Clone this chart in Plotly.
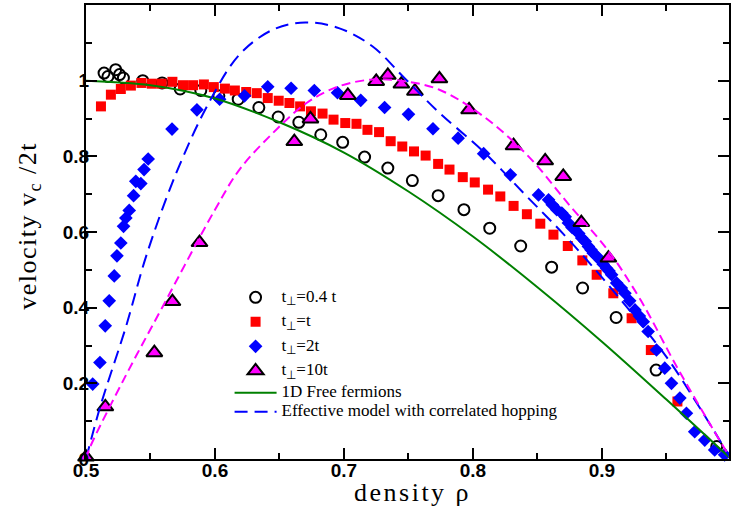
import plotly.graph_objects as go

# ---- data ----
circ_x = [0.514, 0.517, 0.523, 0.526, 0.529, 0.544, 0.559, 0.573, 0.589, 0.603, 0.618, 0.634, 0.649,
          0.665, 0.682, 0.699, 0.716, 0.734, 0.753, 0.773, 0.793, 0.813, 0.837, 0.861, 0.885, 0.911,
          0.942, 0.989]
circ_y = [1.020, 1.011, 1.029, 1.016, 1.007, 1.000, 0.994, 0.978, 0.974, 0.960, 0.951, 0.929, 0.904,
          0.890, 0.857, 0.837, 0.798, 0.769, 0.736, 0.696, 0.659, 0.610, 0.563, 0.507, 0.452, 0.374,
          0.235, 0.033]

sq_x = [0.5116, 0.5193, 0.527, 0.5348, 0.543, 0.551, 0.5587, 0.567, 0.5752, 0.583, 0.5914, 0.5991,
        0.6077, 0.6154, 0.6242, 0.6324, 0.6409, 0.6494, 0.6577, 0.666, 0.6744, 0.6834, 0.6919, 0.701,
        0.7097, 0.7182, 0.7272, 0.7362, 0.7452, 0.7543, 0.7633, 0.773, 0.7818, 0.7921, 0.8014, 0.8117,
        0.8212, 0.8315, 0.8418, 0.8522, 0.8624, 0.8735, 0.8848, 0.8959, 0.9088, 0.923, 0.9379, 0.9585]
sq_y = [0.932, 0.963, 0.978, 0.987, 0.994, 0.992, 0.992, 0.997, 0.988, 0.988, 0.990, 0.983,
        0.979, 0.974, 0.970, 0.967, 0.954, 0.947, 0.941, 0.932, 0.919, 0.913, 0.897, 0.888,
        0.886, 0.870, 0.864, 0.840, 0.826, 0.813, 0.802, 0.780, 0.765, 0.745, 0.731, 0.712,
        0.694, 0.669, 0.647, 0.622, 0.593, 0.563, 0.525, 0.487, 0.438, 0.372, 0.288, 0.152]

dia_x = [0.5052, 0.5108, 0.5149, 0.518, 0.5219, 0.524, 0.527, 0.5291, 0.5309, 0.5335, 0.5369, 0.5386,
         0.5425, 0.545, 0.5482, 0.5667, 0.586, 0.6036, 0.6229, 0.6409, 0.659, 0.677, 0.695, 0.713,
         0.7315, 0.750, 0.769, 0.7885, 0.8083, 0.829, 0.8508, 0.8586, 0.8615, 0.865, 0.8689, 0.8715,
         0.874, 0.8768, 0.8792, 0.882, 0.8843, 0.887, 0.8895, 0.8915, 0.8933, 0.896, 0.8985, 0.901,
         0.9036, 0.9055, 0.9075, 0.9114, 0.915, 0.9178, 0.9215, 0.9256, 0.929, 0.932, 0.9358, 0.9423,
         0.9487, 0.9539, 0.9604, 0.9655, 0.9719, 0.9797, 0.9874, 0.9951]
dia_y = [0.198, 0.255, 0.352, 0.418, 0.484, 0.537, 0.571, 0.615, 0.637, 0.657, 0.696, 0.734,
         0.728, 0.765, 0.793, 0.872, 0.923, 0.951, 0.960, 0.984, 0.980, 0.974, 0.968, 0.948,
         0.929, 0.911, 0.873, 0.848, 0.807, 0.751, 0.698, 0.685, 0.672, 0.659, 0.650, 0.640,
         0.624, 0.612, 0.606, 0.596, 0.584, 0.575, 0.562, 0.553, 0.544, 0.536, 0.526, 0.515,
         0.504, 0.497, 0.487, 0.465, 0.452, 0.438, 0.418, 0.394, 0.378, 0.363, 0.337, 0.288,
         0.240, 0.200, 0.161, 0.121, 0.072, 0.050, 0.024, 0.011]

tri_x = [0.5, 0.515, 0.553, 0.567, 0.588, 0.6615, 0.674, 0.703, 0.725, 0.734, 0.7445, 0.755, 0.774,
         0.797, 0.8315, 0.856, 0.870, 0.884, 0.905]
tri_y = [0.005, 0.138, 0.281, 0.416, 0.572, 0.839, 0.899, 0.961, 0.998, 1.014, 0.991, 0.972, 1.005,
         0.923, 0.828, 0.788, 0.747, 0.625, 0.531]

free_x = [0.5, 0.55, 0.6, 0.65, 0.7, 0.75, 0.8, 0.85, 0.9, 0.95, 1.0]
free_y = [1.0, 0.988, 0.953, 0.89, 0.81, 0.707, 0.588, 0.454, 0.31, 0.157, 0.0]

eff_x = [0.5, 0.511, 0.531, 0.547, 0.570, 0.595, 0.619, 0.645, 0.670, 0.696, 0.722, 0.748, 0.774,
         0.808, 0.8406, 0.87, 0.9, 0.95, 0.972, 0.985, 1.0]
eff_y = [0.0, 0.138, 0.35, 0.54, 0.756, 0.94, 1.069, 1.135, 1.154, 1.139, 1.091, 1.003, 0.915,
         0.813, 0.698, 0.595, 0.48, 0.27, 0.156, 0.085, 0.0]

mag_x = [0.5, 0.503, 0.53, 0.559, 0.6, 0.619, 0.645, 0.671, 0.696, 0.722, 0.748, 0.774, 0.808,
         0.843, 0.875, 0.905, 0.93, 0.958, 0.985, 1.0]
mag_y = [0.0, 0.03, 0.215, 0.40, 0.659, 0.765, 0.862, 0.941, 0.985, 1.003, 0.998, 0.976, 0.906,
         0.80, 0.67, 0.55, 0.42, 0.244, 0.085, 0.0]

x_ticks = [0.5, 0.6, 0.7, 0.8, 0.9]
x_ticktext = ["0.5", "0.6", "0.7", "0.8", "0.9"]
x_minor = [0.55, 0.65, 0.75, 0.85, 0.95]
y_ticks = [0, 0.2, 0.4, 0.6, 0.8, 1.0]
y_ticktext = ["0", "0.2", "0.4", "0.6", "0.8", "1"]
y_minor = [0.1, 0.3, 0.5, 0.7, 0.9, 1.1]

LEG = "<span style='font-size:17px'>%s</span>"

fig = go.Figure()
fig.add_trace(go.Scatter(x=circ_x, y=circ_y, mode="markers", name=LEG % "t<sub>⊥</sub>=0.4 t",
                         marker=dict(symbol="circle-open", size=11, color="black", line=dict(width=2)),
                         legend="legend", legendgroup="g1"))
fig.add_trace(go.Scatter(x=sq_x, y=sq_y, mode="markers", name=LEG % "t<sub>⊥</sub>=t",
                         marker=dict(symbol="square", size=10, color="#ff0000"),
                         legend="legend", legendgroup="g2"))
fig.add_trace(go.Scatter(x=dia_x, y=dia_y, mode="markers", name=LEG % "t<sub>⊥</sub>=2t",
                         marker=dict(symbol="diamond", size=10.5, color="#0000ff"),
                         legend="legend", legendgroup="g3", cliponaxis=False))
fig.add_trace(go.Scatter(x=tri_x, y=tri_y, mode="markers", name=LEG % "t<sub>⊥</sub>=10t",
                         marker=dict(symbol="triangle-up", size=14, color="#ff00ff",
                                     line=dict(color="black", width=2)),
                         legend="legend", legendgroup="g4", cliponaxis=False))
fig.add_trace(go.Scatter(x=free_x, y=free_y, mode="lines", name=LEG % "1D Free fermions",
                         line=dict(color="#008000", width=2, shape="spline"), legend="legend2"))
fig.add_trace(go.Scatter(x=eff_x, y=eff_y, mode="lines",
                         name=LEG % "Effective model with correlated hopping",
                         line=dict(color="#0000ff", width=2, dash="13px,7px", shape="spline"),
                         legend="legend2"))
fig.add_trace(go.Scatter(x=mag_x, y=mag_y, mode="lines", showlegend=False,
                         line=dict(color="#ff00ff", width=2, dash="9px,5px", shape="spline")))

tickfont = dict(family="Liberation Sans, Arial, sans-serif", size=19, color="black", weight="bold")
axis_common = dict(ticks="inside", ticklen=11, tickwidth=2, tickcolor="black",
                   showline=True, linewidth=2, linecolor="black", mirror="ticks",
                   showgrid=False, zeroline=False, tickfont=tickfont)

fig.update_layout(
    width=731, height=520,
    margin=dict(l=86, r=0, t=5, b=61),
    paper_bgcolor="white", plot_bgcolor="white",
    xaxis=dict(range=[0.5, 0.9985], tickmode="array", tickvals=x_ticks, ticktext=x_ticktext,
               minor=dict(tickvals=x_minor, ticks="inside", ticklen=6, tickwidth=2, tickcolor="black"),
               ticklabelstandoff=-7, **axis_common),
    yaxis=dict(range=[0, 1.2], tickmode="array", tickvals=y_ticks, ticktext=y_ticktext,
               minor=dict(tickvals=y_minor, ticks="inside", ticklen=6, tickwidth=2, tickcolor="black"),
               ticklabelstandoff=-9, **axis_common),
    legend=dict(x=0.2233, y=0.388, xanchor="left", yanchor="top", bgcolor="rgba(0,0,0,0)",
                borderwidth=0, font=dict(family="Liberation Serif, Times New Roman, serif", size=11.5,
                                         color="black"),
                itemwidth=42, traceorder="grouped", tracegroupgap=5.5),
    legend2=dict(x=0.2233, y=0.178, xanchor="left", yanchor="top", bgcolor="rgba(0,0,0,0)",
                 borderwidth=0, font=dict(family="Liberation Serif, Times New Roman, serif", size=11.5,
                                          color="black"),
                 itemwidth=42),
    annotations=[
        dict(text="<span style='letter-spacing:2.5px'>density ρ</span>", xref="paper", yref="paper",
             x=0.507, y=-0.0738, xanchor="center", yanchor="middle", showarrow=False,
             font=dict(family="Liberation Serif, Times New Roman, serif", size=26, color="black")),
        dict(text="<span style='letter-spacing:1.5px'>velocity v<sub>c</sub> /2t</span>",
             xref="paper", yref="paper", x=-0.089, y=0.513, xanchor="center", yanchor="middle",
             textangle=-90, showarrow=False,
             font=dict(family="Liberation Serif, Times New Roman, serif", size=26, color="black")),
    ],
)

fig.write_html("out.html", config={"displayModeBar": False},
               post_script="document.body.style.margin='0';document.body.style.overflow='hidden';")
